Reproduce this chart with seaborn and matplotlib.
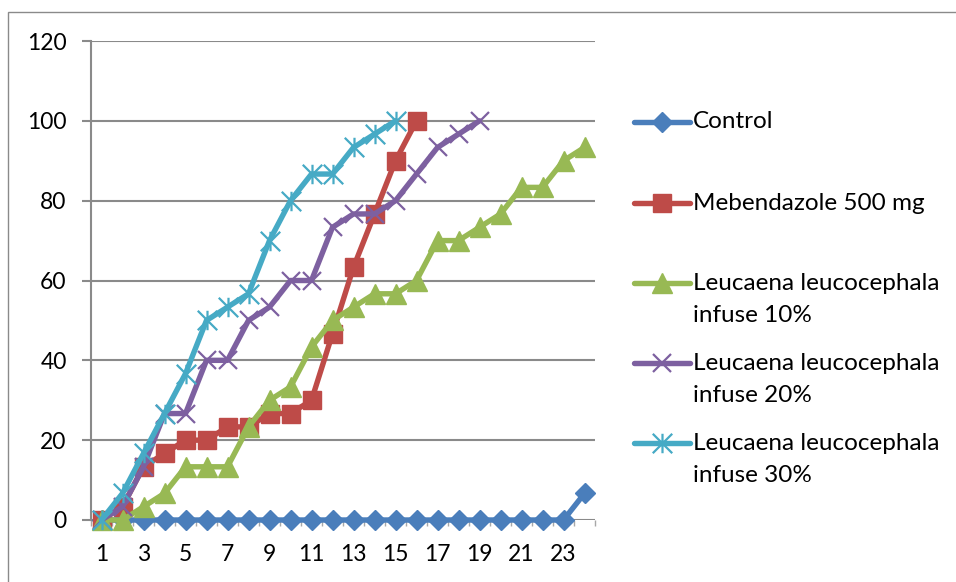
import matplotlib
matplotlib.use("Agg")
import matplotlib.pyplot as plt
from matplotlib.lines import Line2D
from matplotlib.patches import Rectangle
from matplotlib.path import Path
import numpy as np
import pandas as pd
import seaborn as sns

# Cumulative mortality (%) per observation hour
hours = list(range(1, 25))

control = [0] * 23 + [6.67]
mebendazole = [0, 3.33, 13.33, 16.67, 20, 20, 23.33, 23.33, 26.67, 26.67, 30,
               46.67, 63.33, 76.67, 90, 100]
infuse_10 = [0, 0, 3.33, 6.67, 13.33, 13.33, 13.33, 23.33, 30, 33.33, 43.33, 50,
             53.33, 56.67, 56.67, 60, 70, 70, 73.33, 76.67, 83.33, 83.33, 90, 93.33]
infuse_20 = [0, 3.33, 13.33, 26.67, 26.67, 40, 40, 50, 53.33, 60, 60, 73.33,
             76.67, 76.67, 80, 86.67, 93.33, 96.67, 100]
infuse_30 = [0, 6.67, 16.67, 26.67, 36.67, 50, 53.33, 56.67, 70, 80, 86.67, 86.67,
             93.33, 96.67, 100]

series_names = ["Control", "Mebendazole 500 mg",
                "Leucaena leucocephala infuse 10%",
                "Leucaena leucocephala infuse 20%",
                "Leucaena leucocephala infuse 30%"]
legend_lines = [["Control"], ["Mebendazole 500 mg"],
                ["Leucaena leucocephala", "infuse 10%"],
                ["Leucaena leucocephala", "infuse 20%"],
                ["Leucaena leucocephala", "infuse 30%"]]
series_values = [control, mebendazole, infuse_10, infuse_20, infuse_30]

y_ticks = [0, 20, 40, 60, 80, 100, 120]
x_tick_labels = [str(h) for h in range(1, 24, 2)]

colors = ["#4A7EBB", "#BE4B48", "#98B954", "#7D60A0", "#46AAC5"]

# Excel-style star: an "x" with a vertical stroke through it
star = Path([(-1, -1), (1, 1), (-1, 1), (1, -1), (0, -1), (0, 1)],
            [Path.MOVETO, Path.LINETO, Path.MOVETO, Path.LINETO,
             Path.MOVETO, Path.LINETO])
markers = ["D", "s", "^", "x", star]
marker_sizes = [10.5, 13, 14, 13.5, 14]
marker_edge = [1, 1, 1, 1.6, 1.6]

rows = []
for name, vals in zip(series_names, series_values):
    for h, v in zip(hours, vals):
        rows.append({"hour": h, "mortality": v, "group": name})
df = pd.DataFrame(rows)

sns.set_style("white")
plt.rcParams["font.family"] = ["Lato", "DejaVu Sans"]

W, H = 956, 582
fig = plt.figure(figsize=(W / 100, H / 100), dpi=100)

# outer chart border (left and top edges visible)
fig.add_artist(Rectangle((8 / W, -0.1), 1.2, 1 - 11.5 / H + 0.1,
                         transform=fig.transFigure, fill=False,
                         edgecolor="#8a8a8a", linewidth=1.0))

left, right, top, bottom = 91, 595, 41, 520
ax = fig.add_axes([left / W, 1 - bottom / H, (right - left) / W, (bottom - top) / H])

grid_color = "#8a8a8a"
for yv in y_ticks:
    ax.axhline(yv, color=grid_color, linewidth=1.5, zorder=0)

line_w = 3.9
for i, name in enumerate(series_names):
    sub = df[df["group"] == name]
    sns.lineplot(data=sub, x="hour", y="mortality", ax=ax, color=colors[i],
                 linewidth=line_w, marker=markers[i], markersize=marker_sizes[i],
                 markeredgecolor=colors[i], markerfacecolor=colors[i],
                 markeredgewidth=marker_edge[i], legend=False, zorder=3 + i,
                 clip_on=False)

ax.set_xlim(0.5, 24.5)
ax.set_ylim(0, 120)
ax.set_xlabel("")
ax.set_ylabel("")

for s in ["top", "right", "bottom"]:
    ax.spines[s].set_visible(False)
ax.spines["left"].set_color(grid_color)
ax.spines["left"].set_linewidth(1.5)

ax.set_yticks(y_ticks)
ax.set_yticklabels([str(v) for v in y_ticks])
ax.set_xticks(list(range(1, 24, 2)))
ax.set_xticklabels(x_tick_labels)
ax.set_xticks(np.arange(0.5, 25, 1), minor=True)

ax.tick_params(axis="y", which="major", direction="out", length=6.5, width=1.5,
               color=grid_color, left=True, pad=11, labelsize=16.5, labelcolor="black")
ax.tick_params(axis="x", which="major", length=0, pad=17.5, labelsize=16.5,
               labelcolor="black", bottom=True)
ax.tick_params(axis="x", which="minor", direction="out", length=4.5, width=1.0,
               color="#a8a8a8", bottom=True)

# legend drawn in figure pixel coordinates
entry_y = [122, 203, 283, 363, 443]
for i, (lines, y) in enumerate(zip(legend_lines, entry_y)):
    yf = 1 - y / H
    fig.add_artist(Line2D([634 / W, 690 / W], [yf, yf], transform=fig.transFigure,
                          color=colors[i], linewidth=line_w, solid_capstyle="round"))
    fig.add_artist(Line2D([662 / W], [yf], transform=fig.transFigure,
                          color=colors[i], marker=markers[i],
                          markersize=marker_sizes[i], markeredgecolor=colors[i],
                          markerfacecolor=colors[i], markeredgewidth=marker_edge[i],
                          linestyle="none"))
    for k, txt in enumerate(lines):
        fig.text(693 / W, 1 - (y + 33 * k) / H, txt, fontsize=17.5,
                 ha="left", va="center", color="black")

fig.savefig("out.png", dpi=100)
